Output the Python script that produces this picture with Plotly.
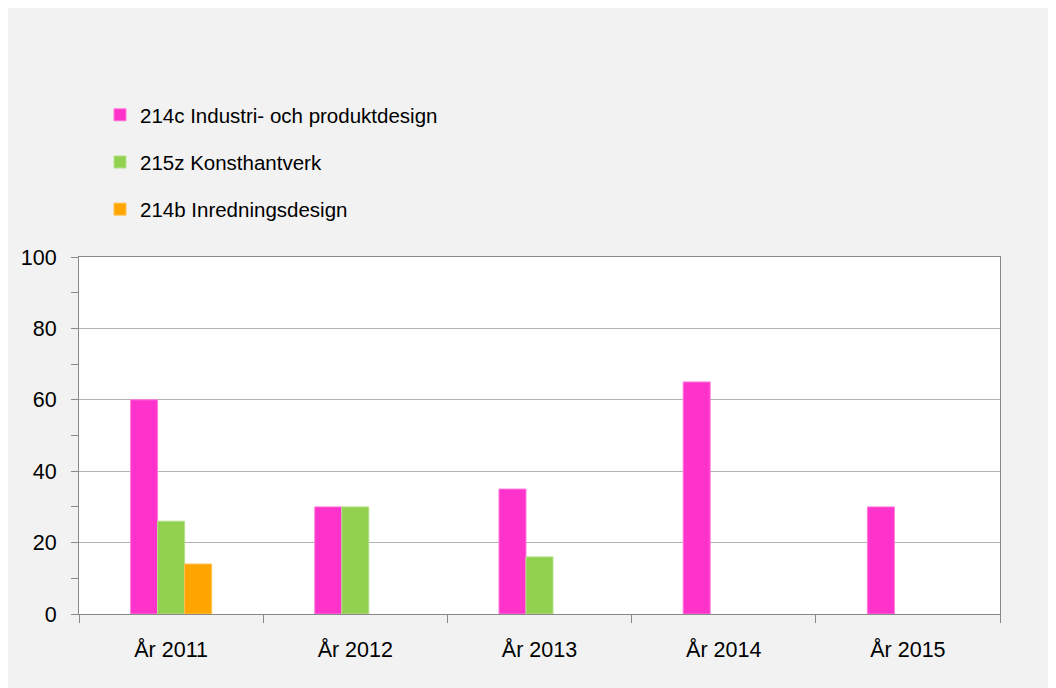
import plotly.graph_objects as go

categories = ["År 2011", "År 2012", "År 2013", "År 2014", "År 2015"]
series_names = ["214c Industri- och produktdesign", "215z Konsthantverk", "214b Inredningsdesign"]
industri = [60, 30, 35, 65, 30]
konsthantverk = [26, 30, 16, None, None]
inredning = [14, None, None, None, None]
y_ticks = [0, 20, 40, 60, 80, 100]

colors = ["#FF33CC", "#92D050", "#FFA500"]
edge = ["#FF7ADB", "#B5E08A", "#FFC04D"]

fig = go.Figure()
for i, (name, vals) in enumerate(zip(series_names, [industri, konsthantverk, inredning])):
    fig.add_trace(go.Bar(
        x=categories, y=vals, name=name,
        marker=dict(color=colors[i], line=dict(color=edge[i], width=1)),
        legendgroup=f"g{i}",
    ))

W, H = 1056, 688
ml, mr, mt, mb = 71, 64, 249, 82
pw, ph = W - ml - mr, H - mt - mb

def px_x(x):
    return (x - ml) / pw

def px_y(y):
    return (H - mb - y) / ph

fig.update_layout(
    width=W, height=H,
    margin=dict(l=ml, r=mr, t=mt, b=mb, pad=0),
    paper_bgcolor="#F2F2F2",
    plot_bgcolor="#FFFFFF",
    barmode="group",
    bargap=0.56,
    bargroupgap=0,
    font=dict(family="Liberation Sans, Arial, sans-serif", size=21, color="#000000"),
    showlegend=True,
    legend=dict(
        x=px_x(92), y=px_y(87), xanchor="left", yanchor="top",
        bgcolor="rgba(0,0,0,0)",
        font=dict(size=20.5),
        tracegroupgap=17.5,
        traceorder="grouped",
    ),
)

fig.update_xaxes(
    type="category",
    tickson="boundaries",
    ticks="outside", ticklen=8, tickcolor="#898989", tickwidth=1,
    showline=True, linecolor="#898989", linewidth=1, mirror=True,
    showgrid=False,
    ticklabelstandoff=16,
    tickfont=dict(size=21.5),
)
fig.update_yaxes(
    range=[0, 100],
    tickvals=y_ticks,
    ticks="outside", ticklen=7, tickcolor="#898989", tickwidth=1,
    minor=dict(dtick=10, ticks="outside", ticklen=7, tickcolor="#898989", showgrid=False),
    showline=True, linecolor="#898989", linewidth=1, mirror=True,
    showgrid=True, gridcolor="#B3B3B3", gridwidth=1,
    zeroline=False,
    ticklabelstandoff=10,
    tickfont=dict(size=21.5),
)

fig.write_html("out.html")
